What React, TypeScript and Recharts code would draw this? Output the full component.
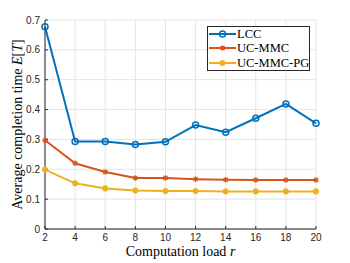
import React from 'react';
import { LineChart, Line, XAxis, YAxis, CartesianGrid, Label } from 'recharts';

const loads = [2, 4, 6, 8, 10, 12, 14, 16, 18, 20];
const lcc = [0.677, 0.293, 0.293, 0.283, 0.292, 0.348, 0.324, 0.371, 0.419, 0.354];
const ucMmc = [0.297, 0.22, 0.191, 0.171, 0.171, 0.167, 0.165, 0.164, 0.164, 0.164];
const ucMmcPg = [0.199, 0.153, 0.136, 0.129, 0.127, 0.127, 0.126, 0.126, 0.126, 0.126];
const xTicks = [2, 4, 6, 8, 10, 12, 14, 16, 18, 20];
const yTicks = [0, 0.1, 0.2, 0.3, 0.4, 0.5, 0.6, 0.7];
const seriesNames = ['LCC', 'UC-MMC', 'UC-MMC-PG'];
const seriesColors = ['#0072BD', '#D95319', '#EDB120'];

const data = loads.map((r, i) => ({ r, lcc: lcc[i], ucMmc: ucMmc[i], ucMmcPg: ucMmcPg[i] }));

const AXIS = '#262626';
const SANS = '"Liberation Sans", Arial, sans-serif';
const SERIF = '"Liberation Serif", "Times New Roman", serif';

const CircleDot = (props: any) => {
  const { cx, cy, key } = props;
  if (cx == null || cy == null) return null;
  return <circle key={key} cx={cx} cy={cy} r={3} fill="none" stroke={seriesColors[0]} strokeWidth={1.5} />;
};
const StarDot = (props: any) => {
  const { cx, cy, key } = props;
  if (cx == null || cy == null) return null;
  const s = 2.8;
  const d = s * 0.72;
  return (
    <g key={key} stroke={seriesColors[1]} strokeWidth={1.2}>
      <line x1={cx - s} y1={cy} x2={cx + s} y2={cy} />
      <line x1={cx} y1={cy - s} x2={cx} y2={cy + s} />
      <line x1={cx - d} y1={cy - d} x2={cx + d} y2={cy + d} />
      <line x1={cx - d} y1={cy + d} x2={cx + d} y2={cy - d} />
    </g>
  );
};
const FillDot = (props: any) => {
  const { cx, cy, key } = props;
  if (cx == null || cy == null) return null;
  return <circle key={key} cx={cx} cy={cy} r={2.8} fill={seriesColors[2]} stroke={seriesColors[2]} strokeWidth={0.5} />;
};
const markerFns = [CircleDot, StarDot, FillDot];

const LegendBox = () => (
  <div
    style={{
      position: 'absolute',
      left: 207,
      top: 26,
      border: `1px solid ${AXIS}`,
      background: '#fff',
      width: 101,
      height: 43,
      boxSizing: 'content-box',
      fontFamily: SERIF,
      fontSize: 12.5,
      color: '#000',
    }}
  >
    {seriesNames.map((name, i) => (
      <div key={name} style={{ display: 'flex', alignItems: 'center', height: 14.33, lineHeight: '14.33px' }}>
        <svg width={29} height={14} style={{ display: 'block', flex: 'none' }}>
          <line x1={1} y1={7} x2={28} y2={7} stroke={seriesColors[i]} strokeWidth={2} />
          {markerFns[i]({ cx: 14.5, cy: 7, key: 'm' })}
        </svg>
        <span style={{ marginLeft: 0, whiteSpace: 'nowrap' }}>{name}</span>
      </div>
    ))}
  </div>
);

const XLabel = (props: any) => {
  const vb = props.viewBox || {};
  const cx = vb.x + vb.width / 2;
  return (
    <text x={cx} y={256} textAnchor="middle" fontFamily={SERIF} fontSize={14} fill="#000">
      Computation load <tspan fontStyle="italic">r</tspan>
    </text>
  );
};

const YLabel = (props: any) => {
  const vb = props.viewBox || {};
  const cy = vb.y + vb.height / 2;
  return (
    <text
      x={22}
      y={cy}
      transform={`rotate(-90, 22, ${cy})`}
      textAnchor="middle"
      fontFamily={SERIF}
      fontSize={14}
      fill="#000"
    >
      Average completion time <tspan fontStyle="italic">E</tspan>[<tspan fontStyle="italic">T</tspan>]
    </text>
  );
};

export default function App() {
  return (
    <div style={{ position: 'absolute', left: 0, top: 0, width: 350, height: 263, background: '#fff' }}>
      <LineChart width={350} height={263} data={data} margin={{ top: 20, right: 34, bottom: 0, left: 0 }}>
        <CartesianGrid stroke="#e4e4e4" strokeWidth={1} />
        <XAxis
          dataKey="r"
          type="number"
          domain={[2, 20]}
          ticks={xTicks}
          height={34}
          stroke={AXIS}
          tickSize={-3}
          tickMargin={8}
          tick={{ fill: AXIS, fontSize: 10, fontFamily: SANS }}
          interval={0}
          label={<Label content={XLabel} />}
        />
        <XAxis
          xAxisId="top"
          orientation="top"
          dataKey="r"
          type="number"
          domain={[2, 20]}
          ticks={xTicks}
          height={0}
          stroke={AXIS}
          tickSize={-3}
          tickFormatter={() => ''}
          interval={0}
        />
        <YAxis
          type="number"
          domain={[0, 0.7]}
          ticks={yTicks}
          width={45}
          stroke={AXIS}
          tickSize={-3}
          tickMargin={8}
          tick={{ fill: AXIS, fontSize: 10, fontFamily: SANS }}
          interval={0}
          tickFormatter={(v: number) => (v === 0 ? '0' : String(Math.round(v * 10) / 10))}
          label={<Label content={YLabel} />}
        />
        <YAxis
          yAxisId="right"
          orientation="right"
          type="number"
          domain={[0, 0.7]}
          ticks={yTicks}
          width={0}
          stroke={AXIS}
          tickSize={-3}
          tickFormatter={() => ''}
          interval={0}
        />
        <Line
          name={seriesNames[0]}
          dataKey="lcc"
          stroke={seriesColors[0]}
          strokeWidth={2}
          dot={CircleDot}
          activeDot={false}
          isAnimationActive={false}
        />
        <Line
          name={seriesNames[1]}
          dataKey="ucMmc"
          stroke={seriesColors[1]}
          strokeWidth={2}
          dot={StarDot}
          activeDot={false}
          isAnimationActive={false}
        />
        <Line
          name={seriesNames[2]}
          dataKey="ucMmcPg"
          stroke={seriesColors[2]}
          strokeWidth={2}
          dot={FillDot}
          activeDot={false}
          isAnimationActive={false}
        />
      </LineChart>
      <LegendBox />
    </div>
  );
}
